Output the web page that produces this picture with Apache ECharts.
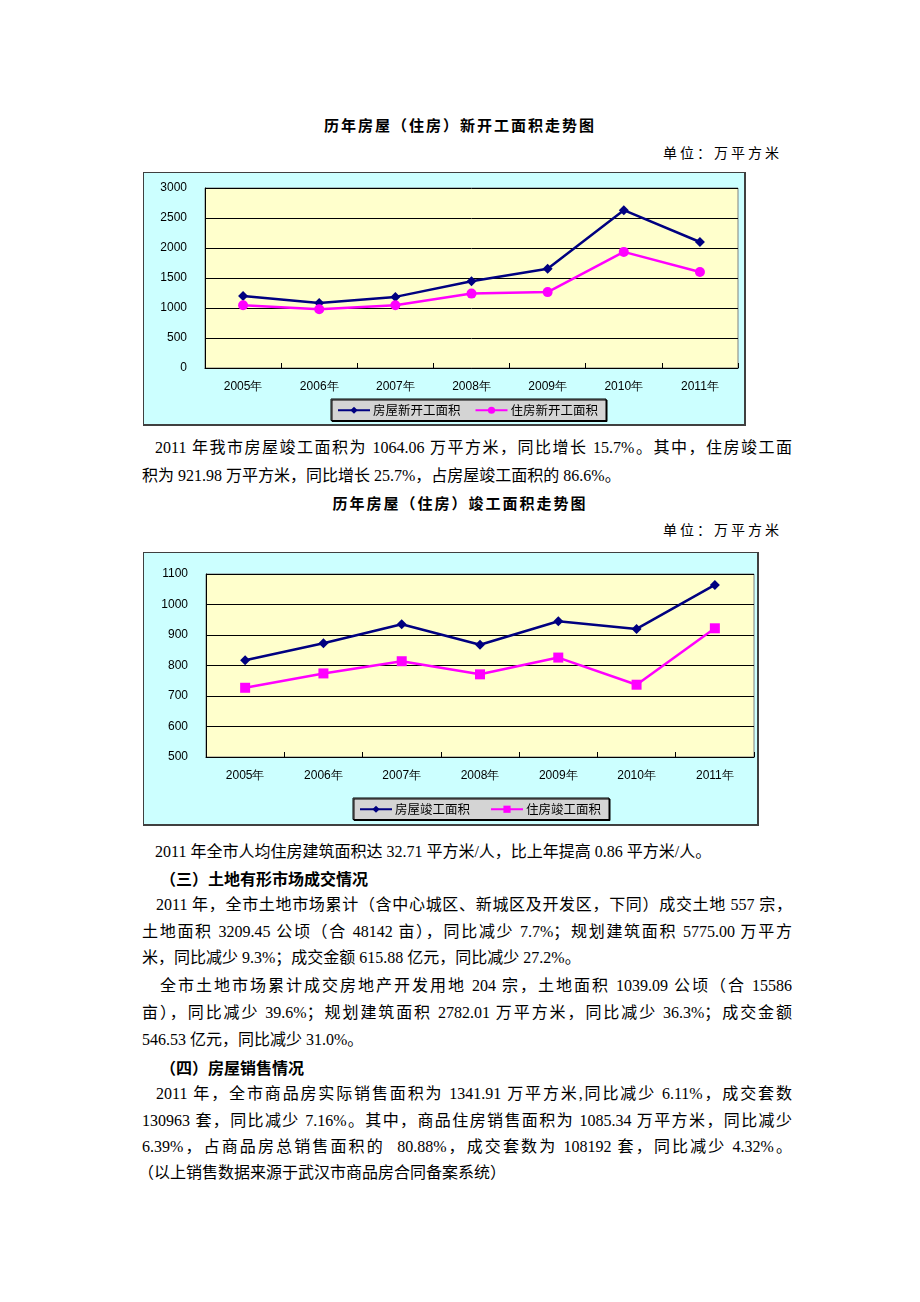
<!DOCTYPE html>
<html>
<head>
<meta charset="utf-8">
<script src="https://cdn.jsdelivr.net/npm/echarts@6/dist/echarts.min.js"></script>
<style>
  html, body { margin: 0; padding: 0; background: #fff; }
  #page { position: relative; width: 920px; height: 1302px; overflow: hidden;
          font-family: "Liberation Serif", "Noto Sans CJK SC", serif; color: #000; }
  .ln { position: absolute; height: 24px; line-height: 24px; font-size: 16px; white-space: nowrap; }
  .j { text-align: justify; text-align-last: justify; white-space: normal; overflow: hidden; }
  .title { position: absolute; left: 0; width: 920px; text-align: center; font-weight: bold;
           font-size: 15px; letter-spacing: 2px; font-family: "Noto Sans CJK SC", sans-serif; height: 24px; line-height: 24px; }
  .unit { position: absolute; right: 138px; font-size: 14px; letter-spacing: 3px; height: 24px; line-height: 24px;
          font-family: "Noto Sans CJK SC", sans-serif; }
  .h { font-weight: bold; font-family: "Noto Sans CJK SC", sans-serif; }
  .box { position: absolute; box-sizing: border-box; border: 1px solid #404040;
         border-right-width: 2px; border-bottom-width: 2px; background: #CCFFFF; }
  .chart { position: absolute; }
</style>
</head>
<body>
<div id="page">
  <div class="title" style="top:113px;">历年房屋（住房）新开工面积走势图</div>
  <div class="unit" style="top:140px;">单位：万平方米</div>
  <div class="box" style="left:143px;top:172px;width:603px;height:254px;"></div>
  <div id="c1" class="chart" style="left:144px;top:173px;width:600px;height:251px;"></div>

  <div class="ln j" style="left:155px;top:436px;width:637px;">2011 年我市房屋竣工面积为 1064.06 万平方米，同比增长 15.7%。其中，住房竣工面</div>
  <div class="ln" style="left:142px;top:464px;">积为 921.98 万平方米，同比增长 25.7%，占房屋竣工面积的 86.6%。</div>

  <div class="title" style="top:491px;">历年房屋（住房）竣工面积走势图</div>
  <div class="unit" style="top:517px;">单位：万平方米</div>
  <div class="box" style="left:143px;top:552px;width:616px;height:274px;"></div>
  <div id="c2" class="chart" style="left:144px;top:553px;width:613px;height:271px;"></div>

  <div class="ln" style="left:155px;top:840px;">2011 年全市人均住房建筑面积达 32.71 平方米/人，比上年提高 0.86 平方米/人。</div>
  <div class="ln h" style="left:160px;top:866px;">（三）土地有形市场成交情况</div>
  <div class="ln j" style="left:156px;top:893px;width:636px;">2011 年，全市土地市场累计（含中心城区、新城区及开发区，下同）成交土地 557 宗，</div>
  <div class="ln j" style="left:142px;top:920px;width:650px;">土地面积 3209.45 公顷（合 48142 亩），同比减少 7.7%；规划建筑面积 5775.00 万平方</div>
  <div class="ln" style="left:142px;top:946px;">米，同比减少 9.3%；成交金额 615.88 亿元，同比减少 27.2%。</div>
  <div class="ln j" style="left:160px;top:974px;width:632px;">全市土地市场累计成交房地产开发用地 204 宗，土地面积 1039.09 公顷（合 15586</div>
  <div class="ln j" style="left:142px;top:1001px;width:650px;">亩），同比减少 39.6%；规划建筑面积 2782.01 万平方米，同比减少 36.3%；成交金额</div>
  <div class="ln" style="left:142px;top:1028px;">546.53 亿元，同比减少 31.0%。</div>
  <div class="ln h" style="left:160px;top:1055px;">（四）房屋销售情况</div>
  <div class="ln j" style="left:156px;top:1082px;width:636px;">2011 年，全市商品房实际销售面积为 1341.91 万平方米,同比减少 6.11%，成交套数</div>
  <div class="ln j" style="left:142px;top:1109px;width:650px;">130963 套，同比减少 7.16%。其中，商品住房销售面积为 1085.34 万平方米，同比减少</div>
  <div class="ln j" style="left:142px;top:1135px;width:650px;">6.39%，占商品房总销售面积的 &nbsp;80.88%，成交套数为 108192 套，同比减少 4.32%。</div>
  <div class="ln" style="left:138px;top:1161px;">（以上销售数据来源于武汉市商品房合同备案系统）</div>
</div>
<script>
// ---- data ----
const years = ['2005年', '2006年', '2007年', '2008年', '2009年', '2010年', '2011年'];
const newStartHouse = [1200, 1085, 1185, 1445, 1655, 2630, 2100];
const newStartResidential = [1045, 980, 1045, 1240, 1265, 1935, 1600];
const completedHouse = [817, 873, 935, 868, 945, 920, 1064.06];
const completedResidential = [727, 774, 814, 771, 826, 737, 921.98];
const yTicks1 = [0, 500, 1000, 1500, 2000, 2500, 3000];
const yTicks2 = [500, 600, 700, 800, 900, 1000, 1100];
const legend1 = ['房屋新开工面积', '住房新开工面积'];
const legend2 = ['房屋竣工面积', '住房竣工面积'];

const NAVY = '#000080', PINK = '#FF00FF';
const labelFont = { fontFamily: 'Liberation Sans, Arial, sans-serif', fontSize: 12, color: '#000' };

function makeOption(grid, legendPos, names, s1, s2, ticks, sym2) {
  return {
    animation: false,
    backgroundColor: 'transparent',
    grid: Object.assign({ show: true, backgroundColor: '#FFFFCC', borderColor: '#808080', borderWidth: 1, containLabel: false }, grid),
    legend: {
      left: legendPos.left, top: legendPos.top,
      data: names,
      backgroundColor: '#D4D4D4', borderColor: '#000', borderWidth: 1,
      shadowColor: '#000', shadowOffsetX: 1, shadowOffsetY: 1, shadowBlur: 0,
      padding: [5, 8, 4, 6], itemWidth: 32, itemHeight: 9, itemGap: legendPos.gap,
      textStyle: { fontFamily: 'Noto Sans CJK SC, sans-serif', fontSize: 12.5, color: '#000', padding: [0, 0, 0, -2] }
    },
    xAxis: {
      type: 'category', data: years, boundaryGap: true,
      axisLine: { show: true, lineStyle: { color: '#000', width: 1 } },
      axisTick: { show: true, inside: true, length: 5, alignWithLabel: false, lineStyle: { color: '#000' } },
      axisLabel: Object.assign({ margin: 13 }, labelFont),
      splitLine: { show: false }
    },
    yAxis: {
      type: 'value', min: ticks[0], max: ticks[ticks.length - 1], interval: ticks[1] - ticks[0],
      axisLine: { show: true, lineStyle: { color: '#000', width: 1 } },
      axisTick: { show: false },
      axisLabel: Object.assign({ margin: 18, formatter: v => String(v) }, labelFont),
      splitLine: { show: true, lineStyle: { color: '#000', width: 1 } }
    },
    series: [
      { name: names[0], type: 'line', data: s1, symbol: 'diamond', symbolSize: 10,
        lineStyle: { color: NAVY, width: 2.5 }, itemStyle: { color: NAVY } },
      { name: names[1], type: 'line', data: s2, symbol: sym2, symbolSize: 10,
        lineStyle: { color: PINK, width: 2.5 }, itemStyle: { color: PINK } }
    ]
  };
}

const c1 = echarts.init(document.getElementById('c1'), null, { renderer: 'canvas' });
c1.setOption(makeOption({ left: 61, top: 15, width: 533, height: 180 }, { left: 187, top: 226, gap: 14 },
  legend1, newStartHouse, newStartResidential, yTicks1, 'circle'));

const c2 = echarts.init(document.getElementById('c2'), null, { renderer: 'canvas' });
c2.setOption(makeOption({ left: 62, top: 21, width: 548, height: 183 }, { left: 209, top: 245, gap: 20 },
  legend2, completedHouse, completedResidential, yTicks2, 'rect'));
</script>
</body>
</html>
